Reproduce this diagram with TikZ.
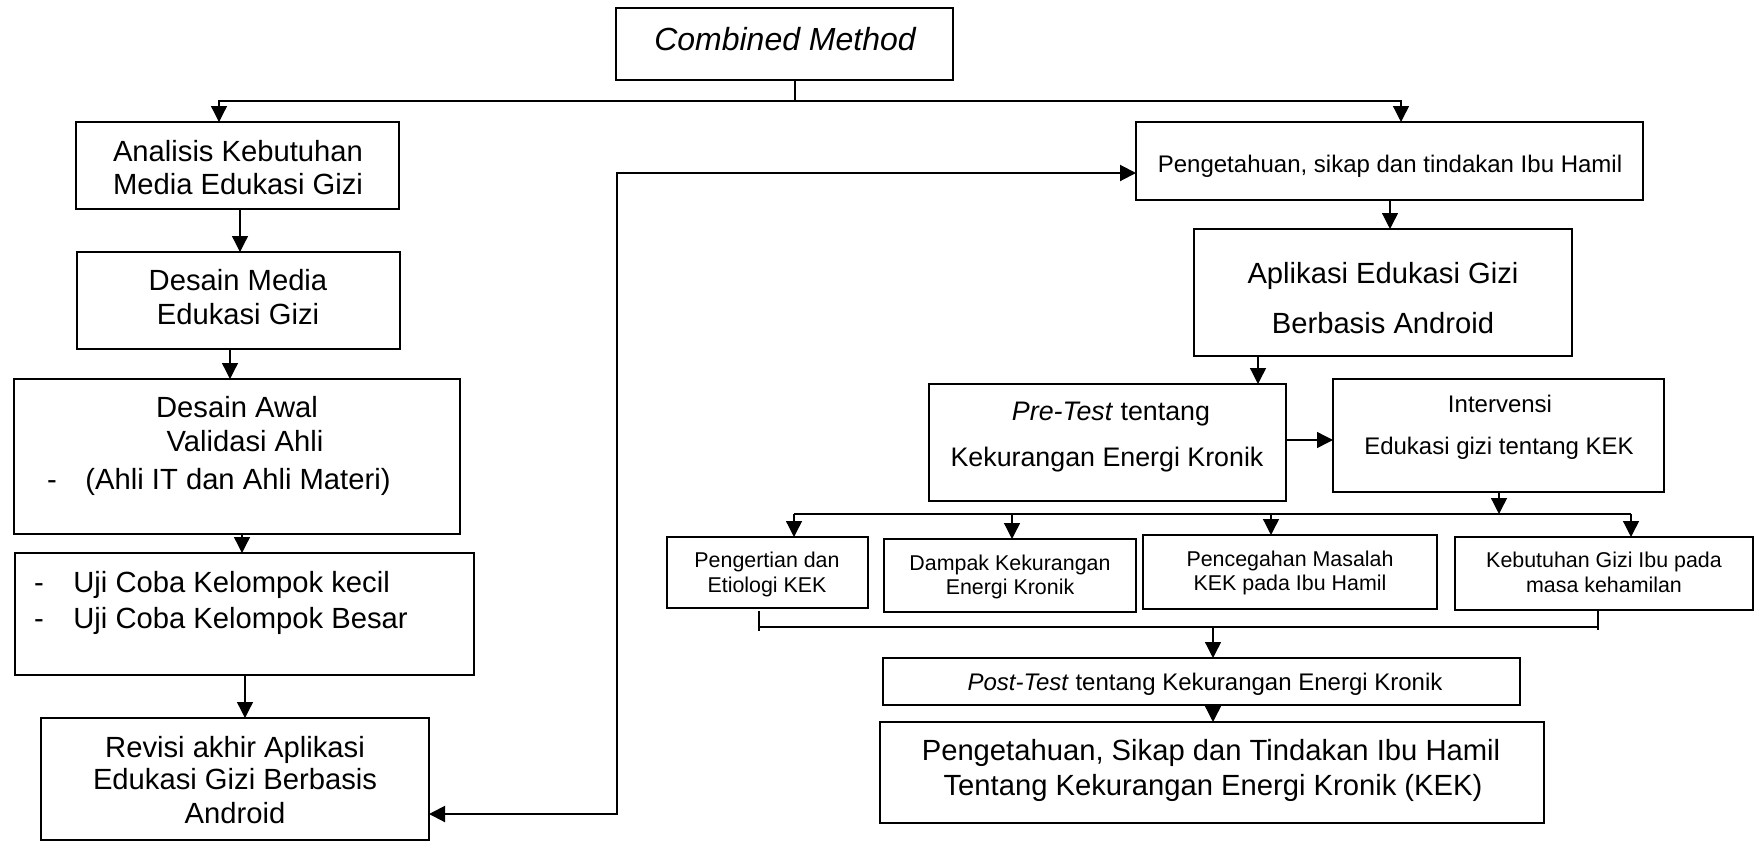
\documentclass[tikz,border=0pt]{standalone}
\usepackage{fontspec}
\setmainfont{Liberation Sans}
\usetikzlibrary{arrows.meta}

% rectangular box given by its corners (x1,y1) (x2,y2)
\newcommand\rbox[5]{%
  \node[boxst, minimum width={(#4-#2)*0.5pt}, minimum height={(#5-#3)*0.5pt}]
    (#1) at ({(#2+#4)/2},{(#3+#5)/2}) {};}

\begin{document}
\begin{tikzpicture}[x=0.5pt,y=-0.5pt,
  boxst/.style={draw=black, line width=0.65pt, inner sep=0pt, outer sep=0pt},
  txt/.style={anchor=base, inner sep=0pt},
  txtl/.style={anchor=base west, inner sep=0pt},
  fsTitle/.style={font=\fontsize{16}{19}\selectfont\itshape},
  fsBig/.style={font=\fontsize{14.6}{17}\selectfont},
  fsPre/.style={font=\fontsize{13.4}{16}\selectfont},
  fsMid/.style={font=\fontsize{12}{14}\selectfont},
  fsSml/.style={font=\fontsize{10.7}{13}\selectfont},
  tip/.tip={Triangle[length=8pt,width=8pt]},
  link/.style={line width=0.65pt},
  arr/.style={link, -tip},
  fbarr/.style={line width=1pt, tip-tip},
]
\useasboundingbox (0,0) rectangle (1755,841);

% ---------- boxes ----------
\rbox{comb}{616}{8}{953}{80}
\rbox{ana}{76}{122}{399}{209}
\rbox{dm}{77}{252}{400}{349}
\rbox{da}{14}{379}{460}{534}
\rbox{uji}{15}{553}{474}{675}
\rbox{rev}{41}{718}{429}{840}
\rbox{peng}{1136}{122}{1643}{200}
\rbox{apl}{1194}{229}{1572}{356}
\rbox{pre}{929}{384}{1286}{501}
\rbox{int}{1333}{379}{1664}{492}
\rbox{b1}{667}{537}{868}{608}
\rbox{b2}{884}{539}{1136}{612}
\rbox{b3}{1143}{535}{1437}{609}
\rbox{b4}{1455}{537}{1753}{610}
\rbox{post}{883}{658}{1520}{705}
\rbox{fin}{880}{722}{1544}{823}

% ---------- texts ----------
\node[txt, fsTitle] (combT) at (785,50) {Combined Method};

\node[txt, fsBig] (anaA) at (238,161) {Analisis Kebutuhan};
\node[txt, fsBig] (anaB) at (238,194) {Media Edukasi Gizi};

\node[txt, fsBig] (dmA) at (238,290) {Desain Media};
\node[txt, fsBig] (dmB) at (238,324) {Edukasi Gizi};

\node[txt, fsBig] (daA) at (237,417) {Desain Awal};
\node[txt, fsBig] (daB) at (245,451) {Validasi Ahli};
\node[txt, fsBig] (daD) at (52,489) {-};
\node[txt, fsBig] (daC) at (238,489) {(Ahli IT dan Ahli Materi)};

\node[txt, fsBig] (ujiD1) at (39,592) {-};
\node[txtl, fsBig] (ujiA) at (73,592) {Uji Coba Kelompok kecil};
\node[txt, fsBig] (ujiD2) at (39,628) {-};
\node[txtl, fsBig] (ujiB) at (73,628) {Uji Coba Kelompok Besar};

\node[txt, fsBig] (revA) at (235,757) {Revisi akhir Aplikasi};
\node[txt, fsBig] (revB) at (235,789) {Edukasi Gizi Berbasis};
\node[txt, fsBig] (revC) at (235,823) {Android};

\node[txt, fsMid] (pengT) at (1390,172) {Pengetahuan, sikap dan tindakan Ibu Hamil};

\node[txt, fsBig] (aplA) at (1383,283) {Aplikasi Edukasi Gizi};
\node[txt, fsBig] (aplB) at (1383,333) {Berbasis Android};

\node[txt, fsPre] (preA) at (1111,420) {\textit{Pre-Test} tentang};
\node[txt, fsPre] (preB) at (1107,466) {Kekurangan Energi Kronik};

\node[txt, fsMid] (intA) at (1500,412) {Intervensi};
\node[txt, fsMid] (intB) at (1499,454) {Edukasi gizi tentang KEK};

\node[txt, fsSml] (b1A) at (767,567) {Pengertian dan};
\node[txt, fsSml] (b1B) at (767,592) {Etiologi KEK};
\node[txt, fsSml] (b2A) at (1010,570) {Dampak Kekurangan};
\node[txt, fsSml] (b2B) at (1010,594) {Energi Kronik};
\node[txt, fsSml] (b3A) at (1290,566) {Pencegahan Masalah};
\node[txt, fsSml] (b3B) at (1290,590) {KEK pada Ibu Hamil};
\node[txt, fsSml] (b4A) at (1604,567) {Kebutuhan Gizi Ibu pada};
\node[txt, fsSml] (b4B) at (1604,592) {masa kehamilan};

\node[txt, fsMid] (postT) at (1205,690) {\textit{Post-Test} tentang Kekurangan Energi Kronik};

\node[txt, fsBig] (finA) at (1211,760) {Pengetahuan, Sikap dan Tindakan Ibu Hamil};
\node[txt, fsBig] (finB) at (1213,795) {Tentang Kekurangan Energi Kronik (KEK)};

% ---------- connectors ----------
\coordinate (split) at (795,101);
\draw[link] (comb.south -| split) -- (split);
\draw[arr] (split) -| (219,0 |- ana.north);
\draw[arr] (split) -| (1401,0 |- peng.north);

% left column
\draw[arr] (240,0 |- ana.south) -- (240,0 |- dm.north);
\draw[arr] (230,0 |- dm.south) -- (230,0 |- da.north);
\draw[arr] (242,0 |- da.south) -- (242,0 |- uji.north);
\draw[arr] (245,0 |- uji.south) -- (245,0 |- rev.north);

% link between the final revision and the knowledge box
\draw[fbarr] (rev.east |- 0,814) -| (617,173) -- (peng.west |- 0,173);

% right column
\draw[arr] (1390,0 |- peng.south) -- (1390,0 |- apl.north);
\draw[arr] (1258,0 |- apl.south) -- (1258,0 |- pre.north);
\draw[arr] (pre.east |- 0,440) -- (int.west |- 0,440);

\coordinate (bus) at (1499,514);
\coordinate (busL) at (794,514);
\coordinate (busR) at (1631,514);
\draw[arr] (1499,0 |- int.south) -- (bus);
\draw[link] (busL) -- (busR);
\draw[arr] (busL) -- (busL |- b1.north);
\draw[arr] (1012,514) -- (1012,0 |- b2.north);
\draw[arr] (1271,514) -- (1271,0 |- b3.north);
\draw[arr] (busR) -- (busR |- b4.north);

\coordinate (jL) at (759,627);
\coordinate (jR) at (1598,627);
\coordinate (jM) at (1213,627);
\draw[link] (759,611) -- (759,631);
\draw[link] (1598,611) -- (1598,630);
\draw[link] (jL) -- (jR);
\draw[arr] (jM) -- (jM |- post.north);
\draw[arr] (1213,0 |- post.south) -- (1213,0 |- fin.north);
\end{tikzpicture}
\end{document}
